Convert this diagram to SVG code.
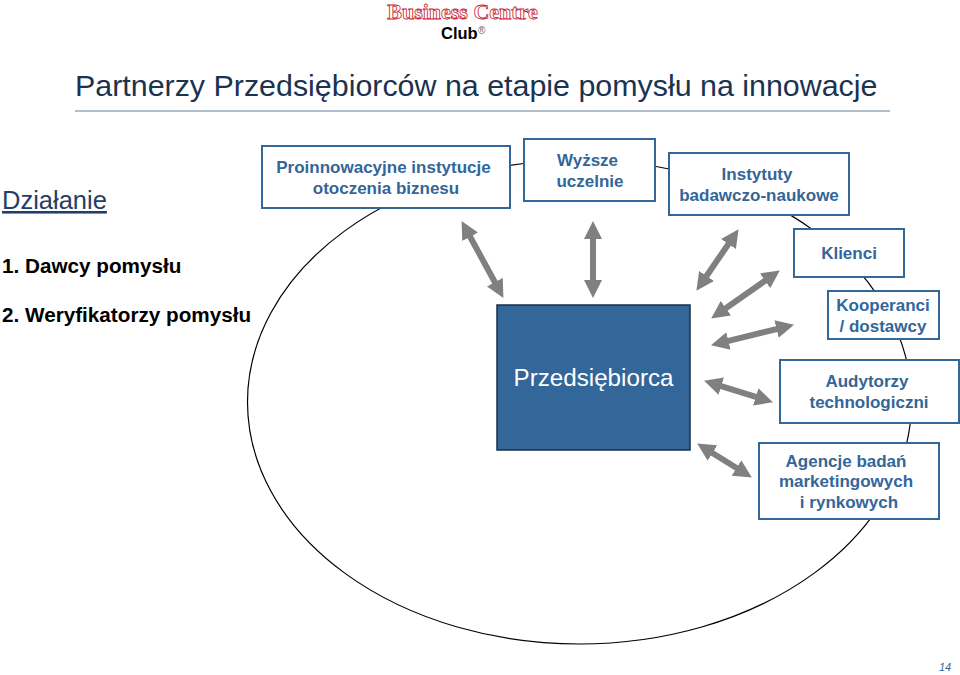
<svg xmlns="http://www.w3.org/2000/svg" width="960" height="675" viewBox="0 0 960 675">
<style>
text{font-family:"Liberation Sans",Arial,sans-serif}
.box{fill:#fff;stroke:#336699;stroke-width:2}
.lbl{font-size:17px;font-weight:bold;fill:#336699;text-anchor:middle}
.side{fill:#000;font-size:20.7px;font-weight:bold}
.arr{stroke:#808080;stroke-width:6;fill:none;marker-start:url(#head);marker-end:url(#head)}
</style>
<defs>
<marker id="head" viewBox="0 -9 18 18" refX="1" refY="0" markerWidth="18" markerHeight="18" markerUnits="userSpaceOnUse" orient="auto-start-reverse"><path d="M0,-9L18,0L0,9z" fill="#808080"/></marker>
</defs>
<rect width="960" height="675" fill="#fff"/>
<g id="logo">
<text x="462.5" y="19" font-size="22" font-weight="bold" text-anchor="middle" fill="#fff" stroke="#c8202f" stroke-width="0.8" style="font-family:'Liberation Serif',serif">Business Centre</text>
<text x="441" y="39" font-size="16.5" font-weight="bold" fill="#000">Club</text>
<text x="478" y="34" font-size="10" fill="#666">®</text>
</g>
<g id="title">
<text x="75" y="96" font-size="30.4" fill="#1a3350">Partnerzy Przedsiębiorców na etapie pomysłu na innowacje</text>
<line x1="75" y1="111" x2="890" y2="111" stroke="#5f7f9a" stroke-width="1"/>
</g>
<g id="side-labels">
<text x="2" y="209" font-size="25.5" fill="#1f3f66" text-decoration="underline">Działanie</text>
<text x="2" y="273" class="side">1. Dawcy pomysłu</text>
<text x="2" y="322" class="side">2. Weryfikatorzy pomysłu</text>
</g>
<ellipse id="oval" cx="579.5" cy="402" rx="332" ry="242" fill="none" stroke="#000" stroke-width="1.2"/>
<g id="connectors">
<line class="arr" x1="469.7" y1="236" x2="495.3" y2="283"/>
<line class="arr" x1="593" y1="238" x2="593" y2="281"/>
<line class="arr" x1="729" y1="243.2" x2="706" y2="276.8"/>
<line class="arr" x1="765.9" y1="280.2" x2="725.1" y2="308.8"/>
<line class="arr" x1="777.5" y1="328.8" x2="727.5" y2="341.2"/>
<line class="arr" x1="720.3" y1="385.8" x2="756.7" y2="397.2"/>
<line class="arr" x1="711.6" y1="452.5" x2="737.4" y2="468.5"/>
</g>
<g id="proinnowacyjne"><rect class="box" x="262" y="146" width="248" height="62"/><text class="lbl" x="383.5" y="173">Proinnowacyjne instytucje</text><text class="lbl" x="386" y="194">otoczenia biznesu</text></g>
<g id="wyzsze"><rect class="box" x="524" y="139" width="131" height="62"/><text class="lbl" x="587.5" y="166">Wyższe</text><text class="lbl" x="590" y="187">uczelnie</text></g>
<g id="instytuty"><rect class="box" x="669" y="153" width="180" height="62"/><text class="lbl" x="757" y="180">Instytuty</text><text class="lbl" x="759" y="201">badawczo-naukowe</text></g>
<g id="klienci"><rect class="box" x="794" y="229" width="110" height="48"/><text class="lbl" x="849" y="259">Klienci</text></g>
<g id="kooperanci"><rect class="box" x="828" y="291" width="111" height="48"/><text class="lbl" x="883" y="311">Kooperanci</text><text class="lbl" x="883" y="332">/ dostawcy</text></g>
<g id="audytorzy"><rect class="box" x="780" y="360" width="179" height="63"/><text class="lbl" x="867" y="387">Audytorzy</text><text class="lbl" x="869" y="408">technologiczni</text></g>
<g id="agencje"><rect class="box" x="759" y="443" width="180" height="76"/><text class="lbl" x="846" y="467">Agencje badań</text><text class="lbl" x="846" y="487">marketingowych</text><text class="lbl" x="849" y="508">i rynkowych</text></g>
<g id="przedsiebiorca"><rect x="497" y="305" width="193" height="145" fill="#336699" stroke="#1a2f4a" stroke-width="1.5"/><text x="593.5" y="386" font-size="24.2" fill="#fff" text-anchor="middle">Przedsiębiorca</text></g>
<text id="page" x="945" y="671" font-size="11" font-style="italic" fill="#336699" text-anchor="middle">14</text>
</svg>
